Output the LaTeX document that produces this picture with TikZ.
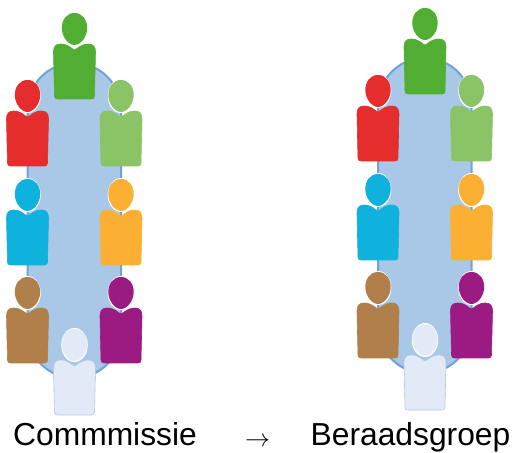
\documentclass[tikz,border=0pt]{standalone}
\usepackage{fontspec}
\setmainfont{Liberation Sans}
\definecolor{tablefill}{HTML}{A9C8E8}
\definecolor{tableline}{HTML}{6FA3D6}
\definecolor{pgreen}{HTML}{52AE32}
\definecolor{pred}{HTML}{E62D2D}
\definecolor{plgreen}{HTML}{8BC466}
\definecolor{pblue}{HTML}{0FB1DD}
\definecolor{porange}{HTML}{FBB034}
\definecolor{pbrown}{HTML}{B17F49}
\definecolor{ppurple}{HTML}{9B1B82}
\definecolor{ppale}{HTML}{E3EAF7}
\definecolor{ppaleline}{HTML}{B4C9DE}
\tikzset{
  x=1pt,y=1pt,
  tablebox/.style={fill=tablefill,draw=tableline,line width=2pt},
  textlabel/.style={font=\fontsize{31.8}{34}\selectfont,anchor=base,inner sep=0pt,text=black},
  arrowlabel/.style={font=\fontsize{37}{40}\selectfont,anchor=base,inner sep=0pt,text=black},
  pics/person/.style n args={2}{code={
    \path[fill=#1,draw=#2,line width=0.6pt]
      (0,-21) .. controls (-3,-20) and (-6,-15) .. (-14,-15)
      .. controls (-19,-15) and (-21,-18) .. (-21,-23)
      -- (-20,-67) .. controls (-20,-69) and (-19,-70) .. (-17,-70)
      -- (17,-70) .. controls (19,-70) and (20,-69) .. (20,-67)
      -- (21,-23) .. controls (21,-18) and (19,-15) .. (14,-15)
      .. controls (6,-15) and (3,-20) .. (0,-21) -- cycle;
    \fill[white] (0,0) circle[x radius=13.3,y radius=17];
    \fill[#1] (0,16) .. controls (8,16) and (12.7,9) .. (12.7,1)
      .. controls (12.7,-8) and (6,-16) .. (0,-16)
      .. controls (-6,-16) and (-12.7,-8) .. (-12.7,1)
      .. controls (-12.7,9) and (-8,16) .. (0,16) -- cycle;
  }}
}
\begin{document}
\begin{tikzpicture}
\useasboundingbox[fill=white] (0,0) rectangle (512,453);
\foreach \dx/\dy in {0/0,350.5/5}{
  \begin{scope}[shift={(\dx,\dy)}]
    \path[tablebox] (27.5,122) -- (27.5,343)
      arc[start angle=180,end angle=0,x radius=46.75,y radius=47]
      -- (121,122)
      arc[start angle=0,end angle=-180,x radius=46.75,y radius=47] -- cycle;
    \pic at (74.5,108) {person={ppale}{ppaleline}};
    \pic at (27.5,160) {person={pbrown}{pbrown}};
    \pic at (121,160) {person={ppurple}{ppurple}};
    \pic at (27.5,258) {person={pblue}{pblue}};
    \pic at (121,258) {person={porange}{porange}};
    \pic at (27.5,357) {person={pred}{pred}};
    \pic at (121,357) {person={plgreen}{plgreen}};
    \pic at (74.5,424) {person={pgreen}{pgreen}};
  \end{scope}
}
\node[textlabel] (commissie) at (105,7) {Commmissie};
\node[arrowlabel] (arrow) at (257.5,6.5) {$\rightarrow$};
\node[textlabel] (beraadsgroep) at (410.5,7) {Beraadsgroep};
\end{tikzpicture}
\end{document}
